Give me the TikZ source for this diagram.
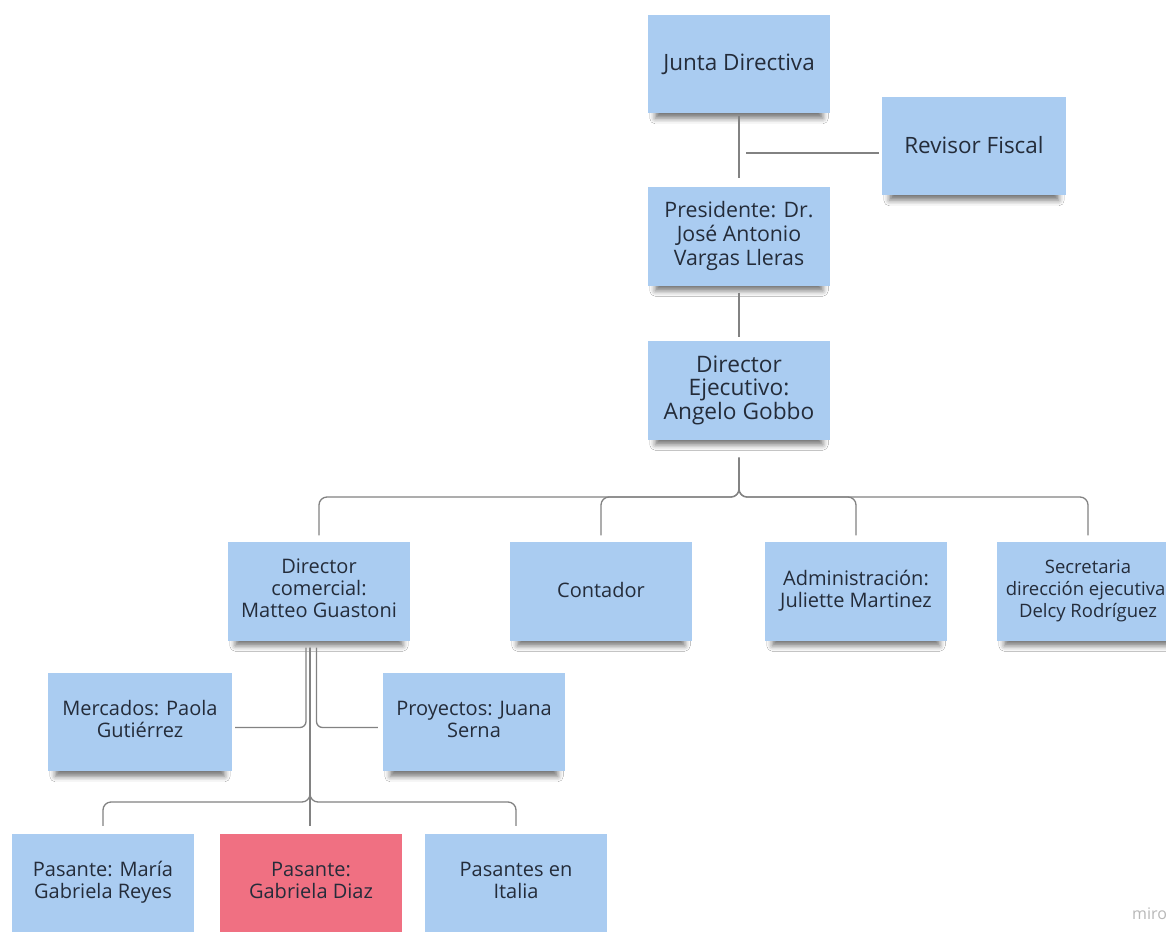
\documentclass[tikz,border=0pt]{standalone}
\usepackage{fontspec}
\setmainfont{Open Sans}
\usetikzlibrary{shadows.blur}
\definecolor{stickyblue}{RGB}{170,204,241}
\definecolor{stickypink}{RGB}{240,112,130}
\definecolor{textcol}{RGB}{36,44,58}
\definecolor{linecol}{RGB}{130,130,130}
\newcommand{\rtext}[2]{\raisebox{#1}{\begin{tabular}{@{}c@{}}#2\end{tabular}}}
\tikzset{
  note/.style={fill=stickyblue, minimum width=182pt, minimum height=98pt,
    align=center, text=textcol, inner sep=0pt,
    font=\fontsize{20}{22}\selectfont,
    blur shadow={shadow xshift=0pt, shadow yshift=-10pt, shadow opacity=55,
      shadow blur radius=6pt, shadow scale=0.92}},
  bignote/.style={note, font=\fontsize{22.5}{24}\selectfont},
  midnote/.style={note, font=\fontsize{21.3}{24}\selectfont},
  smallnote/.style={note, font=\fontsize{18.5}{22}\selectfont},
  conn/.style={draw=linecol, line width=1.3pt, rounded corners=8pt}
}
\begin{document}
\begin{tikzpicture}[x=1pt,y=-1pt]
\fill[white] (0,0) rectangle (1166,931);
\useasboundingbox (0,0) rectangle (1166,931);
% nodes
\node[bignote] (jd) at (739,64) {\raisebox{4pt}{Junta Directiva}};
\node[bignote, minimum width=184pt] (rf) at (974,146) {\raisebox{3pt}{Revisor Fiscal}};
\node[midnote, minimum height=99pt] (pres) at (739,236) {Presidente: Dr.\\José Antonio\\Vargas Lleras};
\node[bignote, minimum height=99pt, font=\fontsize{22.7}{23.5}\selectfont] (de) at (739,390) {Director\\Ejecutivo:\\Angelo Gobbo};
\node[note, minimum height=99pt] (dc) at (319,591) {\rtext{4pt}{Director\\comercial:\\Matteo Guastoni}};
\node[note, minimum height=99pt] (cont) at (601,591) {\raisebox{2pt}{Contador}};
\node[note, minimum height=99pt] (adm) at (856,591) {Administración:\\Juliette Martinez};
\node[smallnote, minimum height=99pt] (sec) at (1088,591) {Secretaria\\dirección ejecutiva:\\Delcy Rodríguez};
\node[note, minimum width=184pt] (merc) at (140,722) {\rtext{5pt}{Mercados: Paola\\Gutiérrez}};
\node[note] (proy) at (474,722) {\rtext{5pt}{Proyectos: Juana\\Serna}};
\node[note] (pm) at (103,883) {\rtext{2pt}{Pasante: María\\Gabriela Reyes}};
\node[note, fill=stickypink] (gd) at (311,883) {\rtext{2pt}{Pasante:\\Gabriela Diaz}};
\node[note] (pi) at (516,883) {\rtext{2pt}{Pasantes en\\Italia}};
\node[text=black!28, font=\fontsize{16}{16}\selectfont, anchor=base west, inner sep=0pt] (miro) at (1132,919) {miro};
% connectors top
\draw[conn] ([yshift=-3pt]jd.south) -- ([yshift=8pt]pres.north);
\coordinate (rfj) at (746,153);
\draw[conn] (rfj) -- ([xshift=-3pt]rfj -| rf.west);
\draw[conn] ([yshift=-7pt]pres.south) -- ([yshift=3pt]de.north);
% Director ejecutivo bus
\coordinate (deb) at ([yshift=-18pt]de.south);
\coordinate (bus1) at (739,497);
\foreach \c in {dc,cont,adm,sec}{
  \draw[conn] (deb) -- (bus1) -| ([yshift=6pt]\c.north);
}
% Director comercial branches
\coordinate (dcl) at ([xshift=-13pt,yshift=-7pt]dc.south);
\coordinate (dcr) at ([xshift=-2.5pt,yshift=-7pt]dc.south);
\coordinate (dcm) at ([xshift=-9pt,yshift=-7pt]dc.south);
\draw[conn, rounded corners=6pt] (dcl) |- ([xshift=3pt,yshift=-5.5pt]merc.east);
\draw[conn, rounded corners=6pt] (dcr) |- ([xshift=-5pt,yshift=-5.5pt]proy.west);
\coordinate (bus2) at (310,802);
\coordinate (gdt) at ([yshift=8pt]gd.north);
\draw[conn] (dcm) -- (bus2) -| ([yshift=8pt]pm.north);
\draw[conn] (dcm) -- (bus2) -| ([yshift=8pt]pi.north);
\draw[conn] (dcm) -- (dcm |- gdt);
\end{tikzpicture}
\end{document}
